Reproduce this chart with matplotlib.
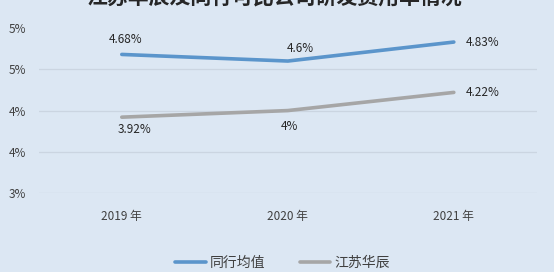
import matplotlib
matplotlib.use("Agg")
import matplotlib.pyplot as plt
import numpy as np

plt.rcParams['font.family'] = ['Noto Sans CJK SC', 'DejaVu Sans']

# data
years = ['2019 年', '2020 年', '2021 年']
peer_avg = [4.68, 4.6, 4.83]      # 同行均值
huachen = [3.92, 4.0, 4.22]       # 江苏华辰
peer_labels = ['4.68%', '4.6%', '4.83%']
huachen_labels = ['3.92%', '4%', '4.22%']
yticks = [3.0, 3.5, 4.0, 4.5, 5.0]
ytick_labels = ['3%', '4%', '4%', '5%', '5%']
title = '江苏华辰及同行可比公司研发费用率情况'

bg = '#DCE7F3'
blue = '#5B95CB'
gray = '#A6A6A6'

fig = plt.figure(figsize=(5.54, 2.72), dpi=100)
fig.patch.set_facecolor(bg)
ax = fig.add_axes([0.070, 0.290, 0.899, 0.607])
ax.set_facecolor(bg)

x = np.arange(len(years))
ax.plot(x, peer_avg, color=blue, lw=2.6, label='同行均值', solid_capstyle='round')
ax.plot(x, huachen, color=gray, lw=2.6, label='江苏华辰', solid_capstyle='round')

# data labels
peer_off = [(3, 11), (9, 9), (21, 0)]
hc_off = [(9, -9), (1, -11.5), (21, 0)]
for i in range(len(x)):
    ax.annotate(peer_labels[i], (x[i], peer_avg[i]), textcoords='offset points',
                xytext=peer_off[i], ha='center', va='center', fontsize=8.5, color='#262626')
    ax.annotate(huachen_labels[i], (x[i], huachen[i]), textcoords='offset points',
                xytext=hc_off[i], ha='center', va='center', fontsize=8.5, color='#262626')

ax.set_xlim(-0.5, len(years) - 0.5)
ax.set_ylim(3.0, 5.0)
ax.set_yticks(yticks)
ax.set_yticklabels(ytick_labels)
ax.set_xticks(x)
ax.set_xticklabels(years)
ax.tick_params(axis='both', length=0, labelsize=8.5, labelcolor='#404040')
ax.tick_params(axis='x', pad=12)
ax.tick_params(axis='y', pad=9)

ax.grid(axis='y', color='#CBD5E1', lw=0.9)
ax.get_ygridlines()[-1].set_visible(False)
ax.set_axisbelow(True)
for s in ax.spines.values():
    s.set_visible(False)

fig.text(0.495, 1.012, title, ha='center', va='center', fontsize=15,
         fontweight='bold', color='#262626')

leg = fig.legend(loc='center', bbox_to_anchor=(0.51, 0.035), ncol=2, frameon=False,
                 fontsize=10, handlelength=2.2, handletextpad=0.3, columnspacing=2.5)
for t in leg.get_texts():
    t.set_color('#404040')

fig.savefig('out.png', dpi=100, facecolor=bg)
